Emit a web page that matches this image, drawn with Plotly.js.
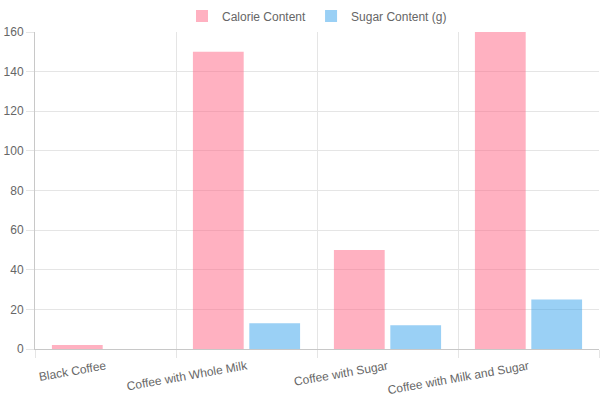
<!DOCTYPE html>
<html>
<head>
<meta charset="utf-8">
<script src="https://cdn.plot.ly/plotly-3.0.1.min.js"></script>
<style>html,body{margin:0;padding:0;background:#fff}#chart{width:600px;height:400px}</style>
</head>
<body>
<div id="chart"></div>
<script>
const categories = ["Black Coffee", "Coffee with Whole Milk", "Coffee with Sugar", "Coffee with Milk and Sugar"];
const calorieContent = [2, 150, 50, 160];
const sugarContent = [0, 13, 12, 25];
const seriesNames = ["Calorie Content", "Sugar Content (g)"];
const yTicks = [0, 20, 40, 60, 80, 100, 120, 140, 160];

const data = [
  {type: "bar", name: seriesNames[0], x: categories, y: calorieContent,
   marker: {color: "rgba(255,99,132,0.5)", line: {width: 0}}},
  {type: "bar", name: seriesNames[1], x: categories, y: sugarContent,
   marker: {color: "rgba(54,162,235,0.5)", line: {width: 0}}}
];

const layout = {
  width: 600, height: 400,
  margin: {l: 35, r: 1, t: 32, b: 51, pad: 0},
  paper_bgcolor: "#fff", plot_bgcolor: "#fff",
  font: {family: "Liberation Sans, Arial, sans-serif", size: 12, color: "#666"},
  barmode: "group", bargap: 0.2, bargroupgap: 0.1,
  showlegend: true,
  legend: {orientation: "h", x: 0.5, xanchor: "center", y: 0.96, yanchor: "middle", yref: "container",
           font: {size: 12, color: "#666"}},
  xaxis: {type: "category", tickson: "boundaries", showgrid: true, gridcolor: "#e5e5e5",
          ticks: "outside", ticklen: 8, tickcolor: "#e5e5e5", tickangle: -10,
          ticklabelstandoff: 5,
          showline: true, linecolor: "#c8c8c8", zeroline: false,
          tickfont: {size: 12, color: "#666"}},
  yaxis: {range: [0, 160], tickvals: yTicks, showgrid: true, gridcolor: "#e5e5e5",
          ticks: "outside", ticklen: 8, tickcolor: "#e5e5e5",
          showline: true, linecolor: "#c8c8c8", zeroline: false,
          tickfont: {size: 12, color: "#666"}}
};

Plotly.newPlot("chart", data, layout, {displayModeBar: false, staticPlot: true});
</script>
</body>
</html>
